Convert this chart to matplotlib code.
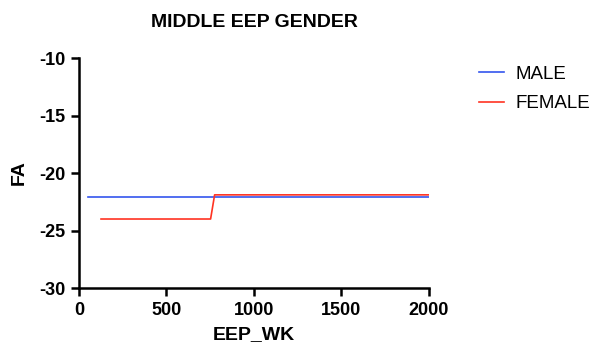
import matplotlib.pyplot as plt

plt.rcParams['font.family'] = ['Liberation Sans', 'DejaVu Sans']
plt.rcParams['axes.unicode_minus'] = False

male_x = [53, 2000]
male_y = [-22.1, -22.1]
female_x = [126, 752, 775, 2000]
female_y = [-24.0, -24.0, -21.9, -21.9]

fig = plt.figure(figsize=(5.97, 3.52), dpi=100)
ax = fig.add_axes([0.1323, 0.1818, 0.5863, 0.6534])

ax.plot(male_x, male_y, color='#3355ee', lw=1.2, label='MALE')
ax.plot(female_x, female_y, color='#ff3322', lw=1.2, label='FEMALE')

ax.set_xlim(0, 2000)
ax.set_ylim(-30, -10)
ax.set_xticks([0, 500, 1000, 1500, 2000])
ax.set_yticks([-30, -25, -20, -15, -10])
for s in ['top', 'right']:
    ax.spines[s].set_visible(False)
for s in ['left', 'bottom']:
    ax.spines[s].set_linewidth(1.8)
ax.tick_params(width=1.8, length=6, labelsize=13, pad=4)
for lab in ax.get_xticklabels() + ax.get_yticklabels():
    lab.set_fontweight('bold')

ax.set_xlabel('EEP_WK', fontsize=14, fontweight='bold', labelpad=5)
ax.set_ylabel('FA', fontsize=14, fontweight='bold', labelpad=8)
ax.set_title('MIDDLE EEP GENDER', fontsize=14, fontweight='bold', pad=22)

ax.legend(loc='upper left', bbox_to_anchor=(1.095, 1.04), frameon=False,
          fontsize=13.5, handlelength=1.35, handletextpad=0.6,
          labelspacing=0.65)

fig.savefig('out.png', dpi=100)
